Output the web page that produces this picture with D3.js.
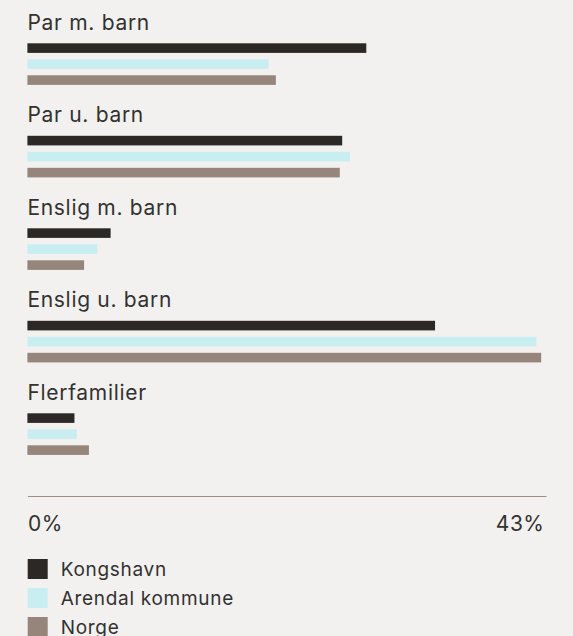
<!DOCTYPE html>
<html>
<head>
<meta charset="utf-8">
<script src="https://cdn.jsdelivr.net/npm/d3@7"></script>
<style>
  html, body { margin: 0; padding: 0; background: #f2f1ef; }
  svg { display: block; font-family: Inter, "Noto Sans", sans-serif; }
</style>
</head>
<body>
<svg id="chart" width="573" height="636"></svg>
<script>
const categories = ["Par m. barn", "Par u. barn", "Enslig m. barn", "Enslig u. barn", "Flerfamilier"];
const seriesNames = ["Kongshavn", "Arendal kommune", "Norge"];
const kongshavn = [28.1, 26.1, 6.9, 33.8, 3.9];
const arendal   = [20.0, 26.75, 5.8, 42.2, 4.1];
const norge     = [20.6, 25.9, 4.7, 42.6, 5.1];
const axisMax = 43;
const tickLabels = ["0%", "43%"];
const colors = ["#2c2825", "#c9eef1", "#96857a"];

const seriesValues = [kongshavn, arendal, norge];
const svg = d3.select("#chart");

const x = d3.scaleLinear().domain([0, axisMax]).range([27.4, 546]);
const group = d3.scaleBand().domain(categories).range([0, 92.5 * categories.length]);
const inner = d3.scaleBand().domain(seriesNames).range([0, 48]);
const color = d3.scaleOrdinal().domain(seriesNames).range(colors);

const rows = categories.map((c, i) => ({
  category: c,
  values: seriesNames.map((s, j) => ({ series: s, value: seriesValues[j][i] }))
}));

const g = svg.selectAll("g.grp").data(rows).join("g")
  .attr("class", "grp")
  .attr("transform", d => `translate(0,${group(d.category)})`);

g.append("text")
  .attr("x", 27.4)
  .attr("y", 29.6)
  .attr("fill", "#333130")
  .attr("font-size", 21)
  .attr("letter-spacing", 0.7)
  .text(d => d.category);

g.selectAll("rect").data(d => d.values).join("rect")
  .attr("x", x(0))
  .attr("y", d => 43.3 + inner(d.series))
  .attr("width", d => x(d.value) - x(0))
  .attr("height", 9.6)
  .attr("fill", d => color(d.series));

// axis
const axis = d3.axisBottom(x)
  .tickValues([0, axisMax])
  .tickFormat((d, i) => tickLabels[i])
  .tickSize(0)
  .tickSizeOuter(0)
  .tickPadding(20);

const ax = svg.append("g")
  .attr("transform", "translate(0,496)")
  .call(axis);
ax.select(".domain").attr("stroke", "#a08e84").attr("stroke-width", 1);
ax.selectAll(".tick text")
  .attr("font-size", 21)
  .attr("letter-spacing", 0.5)
  .attr("font-family", "Inter, 'Noto Sans', sans-serif")
  .attr("fill", "#333130")
  .attr("text-anchor", (d, i) => i === 0 ? "start" : "end")
  .attr("dx", (d, i) => i === 0 ? "0" : "-2");

// legend
const legend = svg.append("g").attr("transform", "translate(27.7,559)");
const li = legend.selectAll("g").data(seriesNames).join("g")
  .attr("transform", (d, i) => `translate(0,${i * 29})`);
li.append("rect")
  .attr("width", 20)
  .attr("height", 20)
  .attr("fill", d => color(d));
li.append("text")
  .attr("x", 33)
  .attr("y", 16.5)
  .attr("font-size", 19)
  .attr("letter-spacing", 0.7)
  .attr("fill", "#333130")
  .text(d => d);
</script>
</body>
</html>
